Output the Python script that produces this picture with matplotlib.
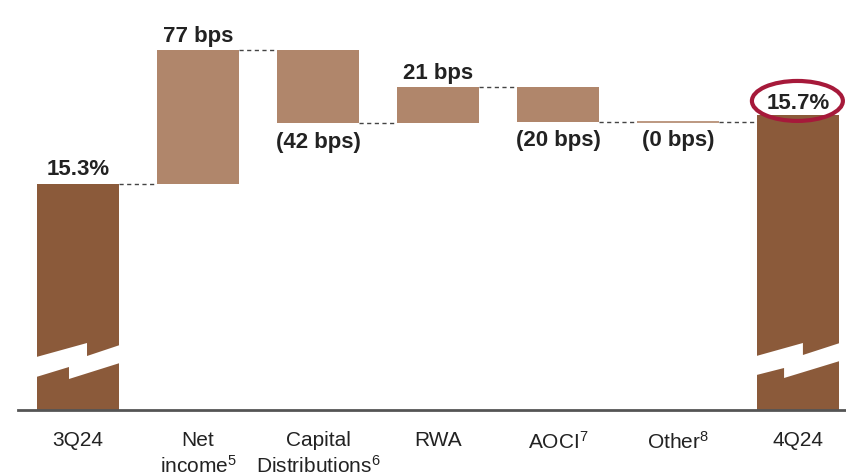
import matplotlib
matplotlib.use("Agg")
import matplotlib.pyplot as plt
from matplotlib.patches import Polygon, Ellipse
from matplotlib.transforms import blended_transform_factory

# --- data -------------------------------------------------------------
categories = ["3Q24", "Net\nincome$^{5}$", "Capital\nDistributions$^{6}$",
              "RWA", "AOCI$^{7}$", "Other$^{8}$", "4Q24"]
start_ratio = 15.3          # CET1 ratio, %
end_ratio = 15.7            # CET1 ratio, %
deltas_bps = [77, -42, 21, -20, 0]
delta_labels = ["77 bps", "(42 bps)", "21 bps", "(20 bps)", "(0 bps)"]
total_labels = ["15.3%", "15.7%"]

# --- style ------------------------------------------------------------
dark = "#8B5A3A"
light = "#B0866B"
text_c = "#222222"
axis_c = "#555555"
ring_c = "#A6193A"
font = ["Liberation Sans", "DejaVu Sans"]

plt.rcParams["mathtext.fontset"] = "custom"
plt.rcParams["mathtext.rm"] = "Liberation Sans"
plt.rcParams["mathtext.it"] = "Liberation Sans"
plt.rcParams["mathtext.bf"] = "Liberation Sans:bold"

fig = plt.figure(figsize=(8.46, 4.76), dpi=100)
ax = fig.add_axes([18 / 846, 66 / 476, 828 / 846, 410 / 476])

width = 0.683
n = len(categories)
x = list(range(n))

# running levels
levels = [start_ratio]
for d in deltas_bps:
    levels.append(levels[-1] + d / 100)

# totals
ax.bar(x[0], start_ratio, width=width, color=dark, zorder=2)
ax.bar(x[-1], end_ratio, width=width, color=dark, zorder=2)

# increments
for i, d in enumerate(deltas_bps):
    lo = min(levels[i], levels[i + 1])
    h = abs(d) / 100
    ax.bar(x[i + 1], h, bottom=lo, width=width, color=light,
           edgecolor=light, linewidth=1.2 if d == 0 else 0, zorder=2)

# dashed connectors
for i in range(n - 1):
    lvl = levels[min(i, len(levels) - 1)]
    ax.plot([x[i] + width / 2, x[i + 1] - width / 2], [lvl, lvl],
            ls=(0, (3, 2.5)), color="#444444", lw=1, zorder=1)

# value labels
lab_kw = dict(ha="center", va="baseline", fontsize=16, fontweight="bold",
              color=text_c, family=font, textcoords="offset points", zorder=4)
ax.annotate(total_labels[0], (x[0], start_ratio), xytext=(0, 6.5), **lab_kw)
ax.annotate(total_labels[1], (x[-1], end_ratio), xytext=(0, 4), **lab_kw)
for i, d in enumerate(deltas_bps):
    hi = max(levels[i], levels[i + 1])
    lo = min(levels[i], levels[i + 1])
    if d > 0:
        ax.annotate(delta_labels[i], (x[i + 1], hi), xytext=(0, 6), **lab_kw)
    else:
        ax.annotate(delta_labels[i], (x[i + 1], lo), xytext=(0, -17.5),
                    **lab_kw)

# ring around the ending ratio
ax.add_patch(Ellipse((x[-1] - 0.005, end_ratio + 0.079), 0.758, 0.23,
                     fill=False, edgecolor=ring_c, lw=3, zorder=5,
                     clip_on=False))

ax.set_xlim(-0.5, 6.4)
ax.set_ylim(14.0, 16.36)

# axis-break marks on the total bars
bt = blended_transform_factory(ax.transData, ax.transAxes)
def frac(p):
    return (410 - p) / 410

def break_mark(xc, top_pts, bot_pts):
    pts = [(xc - width / 2 + u * width, frac(p)) for u, p in top_pts]
    pts += [(xc - width / 2 + u * width, frac(p)) for u, p in reversed(bot_pts)]
    ax.add_patch(Polygon(pts, closed=True, facecolor="white",
                         edgecolor="none", transform=bt, zorder=3))

break_mark(x[0],
           [(-0.03, 357.5), (0.61, 343), (0.61, 356), (1.03, 344.5)],
           [(-0.03, 377.5), (0.39, 367), (0.39, 379), (1.03, 362.5)])
break_mark(x[-1],
           [(-0.03, 356.5), (0.56, 343), (0.56, 355), (1.03, 342.5)],
           [(-0.03, 375.5), (0.33, 368), (0.33, 378), (1.03, 360.5)])

# axes styling
for s in ("top", "right", "left"):
    ax.spines[s].set_visible(False)
ax.spines["bottom"].set_color(axis_c)
ax.spines["bottom"].set_linewidth(2)
ax.set_yticks([])
ax.set_xticks(x)
ax.set_xticklabels(categories, fontsize=15, color=text_c, family=font,
                   linespacing=1.3, va="top")
ax.tick_params(axis="x", length=0, pad=15)

fig.savefig("out.png", dpi=100)
